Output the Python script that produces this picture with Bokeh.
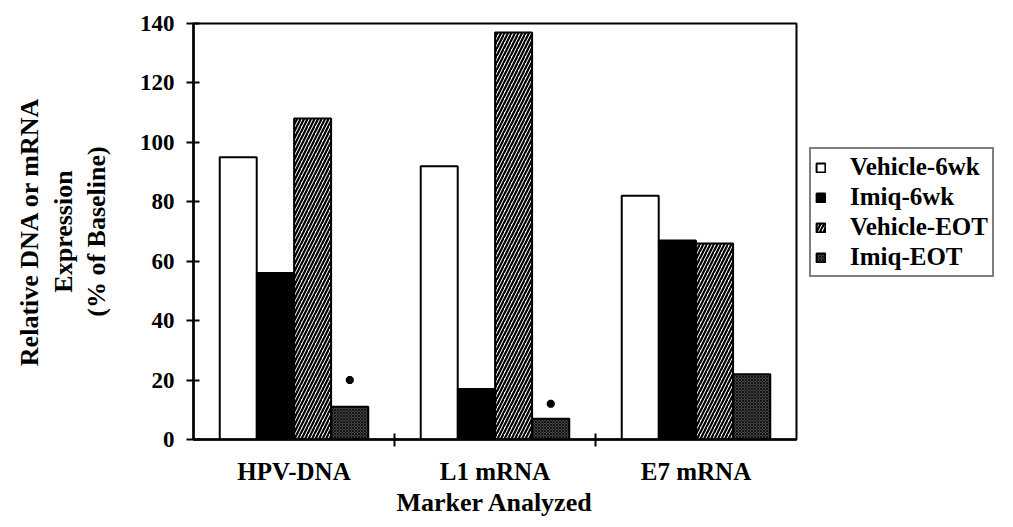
import numpy as np
from bokeh.plotting import figure
from bokeh.models import ColumnDataSource, FixedTicker, Legend, LegendItem, Range1d
from bokeh.embed import file_html
from bokeh.resources import INLINE

categories = ["HPV-DNA", "L1 mRNA", "E7 mRNA"]
series = ["Vehicle-6wk", "Imiq-6wk", "Vehicle-EOT", "Imiq-EOT"]
vehicle_6wk = [95, 92, 82]
imiq_6wk = [56, 17, 67]
vehicle_eot = [108, 137, 66]
imiq_eot = [11, 7, 22]
asterisk_cat = [0, 1]          # categories with a significance asterisk (over Imiq-EOT)
asterisk_level = [20, 12]      # height of the asterisk, % of baseline
y_ticks = [0, 20, 40, 60, 80, 100, 120, 140]
y_title = ["Relative DNA or mRNA", "Expression", "(% of Baseline)"]
x_title = "Marker Analyzed"

FONT = "Liberation Serif"

p = figure(width=997, height=511, output_backend="svg", toolbar_location=None,
           x_range=Range1d(0, 3), y_range=Range1d(0, 140),
           frame_width=603, frame_height=416,
           min_border_left=193, min_border_top=23, min_border_bottom=72, min_border_right=10)
p.grid.visible = False
p.outline_line_color = "black"
p.outline_line_width = 2
p.background_fill_color = "white"
p.border_fill_color = "white"

offsets = [-0.2775, -0.0925, 0.0925, 0.2775]
width = 0.184
idx = np.arange(len(categories)) + 0.5
values = [vehicle_6wk, imiq_6wk, vehicle_eot, imiq_eot]
styles = [
    dict(fill_color="white"),
    dict(fill_color="black"),
    dict(fill_color="white", hatch_pattern="/", hatch_color="black", hatch_scale=7, hatch_weight=2.2),
    dict(fill_color="#444444", hatch_pattern="x", hatch_color="#151515", hatch_scale=3, hatch_weight=1),
]
items = []
for name, vals, off, st in zip(series, values, offsets, styles):
    src = ColumnDataSource(dict(x=idx + off, top=vals))
    r = p.vbar(x="x", top="top", width=width, source=src, line_color="black", line_width=2, **st)
    items.append(LegendItem(label=name, renderers=[r]))

# asterisks
ax = [c + 0.5 + offsets[3] for c in asterisk_cat]
p.scatter(x=ax, y=asterisk_level, marker="asterisk", size=8, line_width=3, line_color="black")

# y axis
ya = p.yaxis[0]
ya.ticker = FixedTicker(ticks=y_ticks)
ya.axis_line_width = 2.5
ya.major_tick_line_width = 2
ya.major_tick_in = 6
ya.major_tick_out = 7
ya.minor_tick_line_color = None
ya.major_label_text_font = FONT
ya.major_label_text_font_style = "bold"
ya.major_label_text_font_size = "23px"
ya.major_label_text_color = "black"
ya.major_label_standoff = 12
ya.axis_label = "\n".join(y_title)
ya.axis_label_text_font = FONT
ya.axis_label_text_font_style = "bold"
ya.axis_label_text_font_size = "26px"
ya.axis_label_text_color = "black"
ya.axis_label_text_line_height = 1.15
ya.axis_label_standoff = 26

# x axis
xa = p.xaxis[0]
xa.ticker = FixedTicker(ticks=[0.5, 1.5, 2.5], minor_ticks=[1, 2])
xa.major_label_overrides = {0.5: categories[0], 1.5: categories[1], 2.5: categories[2]}
xa.axis_line_width = 2.5
xa.major_tick_line_color = None
xa.major_tick_in = 0
xa.major_tick_out = 0
xa.minor_tick_line_color = "black"
xa.minor_tick_line_width = 2
xa.minor_tick_in = 6
xa.minor_tick_out = 7
xa.major_label_text_font = FONT
xa.major_label_text_font_style = "bold"
xa.major_label_text_font_size = "25px"
xa.major_label_text_color = "black"
xa.major_label_standoff = 11
xa.axis_label = x_title
xa.axis_label_text_font = FONT
xa.axis_label_text_font_style = "bold"
xa.axis_label_text_font_size = "26px"
xa.axis_label_text_color = "black"
xa.axis_label_standoff = 0

legend = Legend(items=items, location=(13, 162))
legend.label_text_font = FONT
legend.label_text_font_style = "bold"
legend.label_text_font_size = "25px"
legend.label_text_color = "black"
legend.glyph_width = 11
legend.glyph_height = 11
legend.label_standoff = 24
legend.spacing = 2
legend.label_height = 26
legend.padding = 4
legend.margin = 0
legend.border_line_color = "black"
legend.border_line_width = 2
legend.background_fill_color = "white"
p.add_layout(legend, "right")

open("out.html", "w").write(file_html(p, INLINE))
